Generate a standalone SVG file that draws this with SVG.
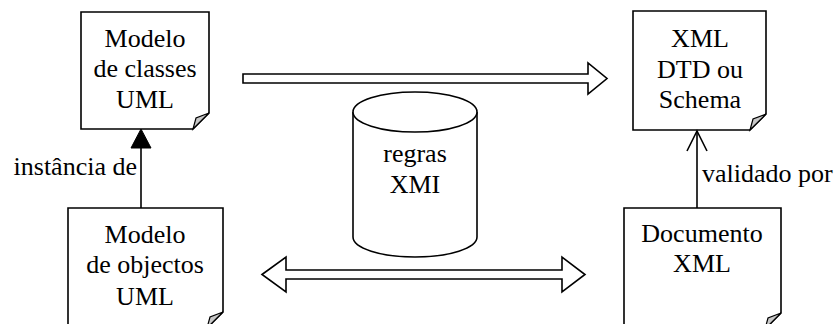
<svg xmlns="http://www.w3.org/2000/svg" width="838" height="324" viewBox="0 0 838 324">
  <style>
    .doc { fill: #ffffff; stroke: #000000; stroke-width: 1.6; stroke-linejoin: miter; }
    .fold { fill: #c8c8c8; stroke: #000000; stroke-width: 1.2; stroke-linejoin: miter; }
    text { font-family: 'Liberation Serif', 'Times New Roman', Times, serif; font-size: 26px; fill: #000000; }
    .mid { text-anchor: middle; }
    .wire { fill: none; stroke: #000000; stroke-width: 1.6; }
    .fat { fill: #ffffff; stroke: #000000; stroke-width: 1.6; stroke-linejoin: miter; }
    .db { fill: #ffffff; stroke: #000000; stroke-width: 1.6; }
  </style>
  <rect width="838" height="324" fill="#ffffff"/>

  <!-- class model document -->
  <g id="modelo-classes">
    <path class="doc" d="M81,12 H209 V113 L193,129 H81 Z"/>
    <path class="fold" d="M209,113 L193,129 L196,118 Z"/>
    <text class="mid" x="145" y="47">Modelo</text>
    <text class="mid" x="145" y="77">de classes</text>
    <text class="mid" x="145" y="108">UML</text>
  </g>

  <!-- schema document -->
  <g id="xml-schema">
    <path class="doc" d="M633,11 H766 V114 L750,130 H633 Z"/>
    <path class="fold" d="M766,114 L750,130 L753,119 Z"/>
    <text class="mid" x="700" y="47">XML</text>
    <text class="mid" x="700" y="78">DTD ou</text>
    <text class="mid" x="700" y="108">Schema</text>
  </g>

  <!-- object model document -->
  <g id="modelo-objectos">
    <path class="doc" d="M68,208 H223 V312 L207,328 H68 Z"/>
    <path class="fold" d="M223,312 L207,328 L210,317 Z"/>
    <text class="mid" x="145" y="243">Modelo</text>
    <text class="mid" x="145" y="273">de objectos</text>
    <text class="mid" x="145" y="305">UML</text>
  </g>

  <!-- XML instance document -->
  <g id="documento-xml">
    <path class="doc" d="M624,208 H781 V313 L765,329 H624 Z"/>
    <path class="fold" d="M781,313 L765,329 L768,318 Z"/>
    <text class="mid" x="702" y="242">Documento</text>
    <text class="mid" x="702" y="272">XML</text>
  </g>

  <!-- rules repository -->
  <g id="regras-xmi">
    <path class="db" d="M353,112 V237 A62,20 0 0 0 477,237 V112"/>
    <ellipse class="db" cx="415" cy="112" rx="62" ry="20"/>
    <text class="mid" x="415" y="162">regras</text>
    <text class="mid" x="415" y="193">XMI</text>
  </g>

  <g id="connectors">
    <!-- instance-of: filled triangle head -->
    <line class="wire" x1="141" y1="208" x2="141" y2="146"/>
    <path d="M141,129 L131,148 L151,148 Z" fill="#000000" stroke="#000000" stroke-width="1"/>
    <text x="137" y="175" text-anchor="end">instância de</text>

    <!-- validated-by: open head -->
    <line class="wire" x1="697" y1="208" x2="697" y2="131"/>
    <path class="wire" d="M687,151 L697,131 L707,151"/>
    <text x="702" y="182">validado por</text>

    <!-- mapping classes to schema -->
    <path class="fat" d="M243,74 H588 V63 L607,78.5 L588,94 V83 H243 Z"/>

    <!-- two-way mapping objects / documents -->
    <path class="fat" d="M262,274.5 L286,257 V270 H562 V257 L585,274.5 L562,292 V279 H286 V292 Z"/>
  </g>
</svg>
